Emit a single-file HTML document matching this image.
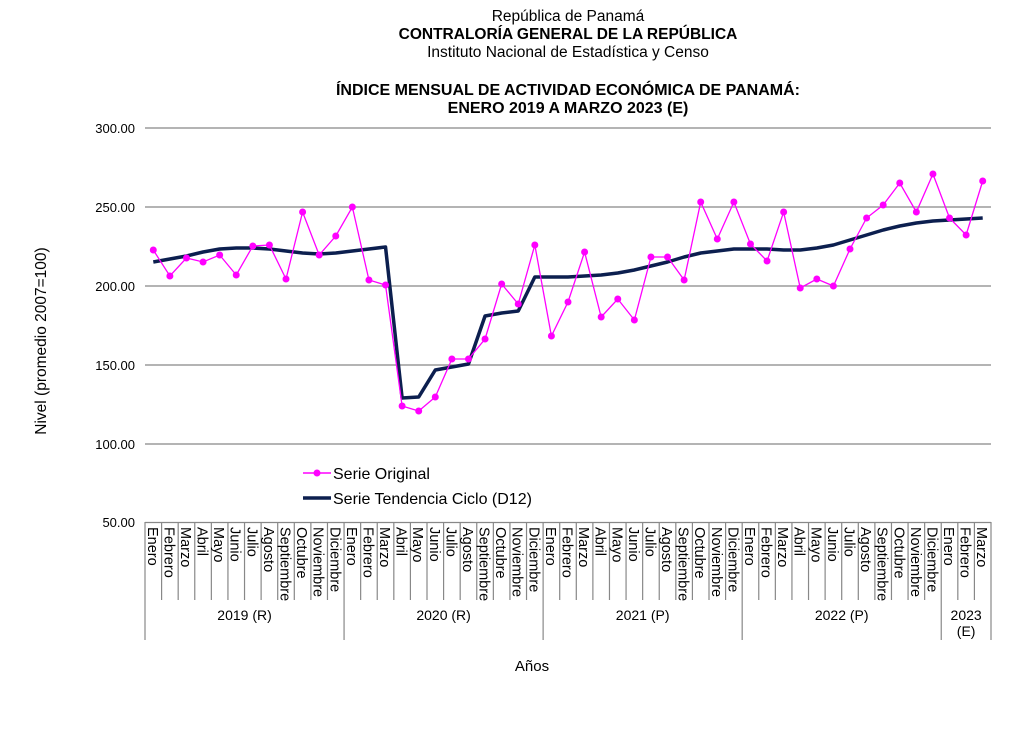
<!DOCTYPE html>
<html><head><meta charset="utf-8"><style>
body{margin:0;background:#fff;font-family:"Liberation Sans",sans-serif;}
svg text{font-family:"Liberation Sans",sans-serif;fill:#000;}
</style></head><body>
<svg id="s" width="1013" height="737" xmlns="http://www.w3.org/2000/svg">
<text x="568" y="21" font-size="15.5" text-anchor="middle">República de Panamá</text>
<text x="568" y="39" font-size="15.5" font-weight="bold" text-anchor="middle">CONTRALORÍA GENERAL DE LA REPÚBLICA</text>
<text x="568" y="57" font-size="15.5" text-anchor="middle">Instituto Nacional de Estadística y Censo</text>
<text x="568" y="95" font-size="16" font-weight="bold" text-anchor="middle">ÍNDICE MENSUAL DE ACTIVIDAD ECONÓMICA DE PANAMÁ:</text>
<text x="568" y="113" font-size="16" font-weight="bold" text-anchor="middle">ENERO 2019 A MARZO 2023 (E)</text>
<text x="46" y="341" font-size="15.5" text-anchor="middle" transform="rotate(-90 46 341)">Nivel (promedio 2007=100)</text>
<text x="532" y="671" font-size="15" text-anchor="middle">Años</text>
<line x1="303" y1="473" x2="331" y2="473" stroke="#ff00ff" stroke-width="1.5"/><circle cx="317" cy="473" r="3.5" fill="#ff00ff"/>
<text x="333" y="479" font-size="16">Serie Original</text>
<line x1="303" y1="498" x2="331" y2="498" stroke="#0c1f4f" stroke-width="3.5"/>
<text x="333" y="504" font-size="16">Serie Tendencia Ciclo (D12)</text>
</svg>
<script>
const s=document.getElementById('s');const ns='http://www.w3.org/2000/svg';
function el(t,a,txt){const e=document.createElementNS(ns,t);for(const k in a)e.setAttribute(k,a[k]);if(txt)e.textContent=txt;s.appendChild(e);return e;}
const L=145,R=991,W=(R-L)/51;
[[300,128],[250,207],[200,286],[150,365],[100,444]].forEach(([v,y])=>{el('line',{x1:L,x2:R,y1:y,y2:y,stroke:'#888','stroke-width':1.3});el('text',{x:135,y:y+5,'font-size':13,'text-anchor':'end'},v.toFixed(2));});
el('text',{x:135,y:527,'font-size':13,'text-anchor':'end'},'50.00');
el('line',{x1:L,x2:R,y1:522.5,y2:522.5,stroke:'#888','stroke-width':1.3});
const m=['Enero','Febrero','Marzo','Abril','Mayo','Junio','Julio','Agosto','Septiembre','Octubre','Noviembre','Diciembre'];
for(let i=0;i<=51;i++){const x=L+i*W;const yr=i%12==0||i==51;el('line',{x1:x,x2:x,y1:522,y2:yr?640:600,stroke:'#888','stroke-width':1.2});}
for(let i=0;i<51;i++){const x=L+i*W+W/2-5.5;el('text',{x:x,y:527,'font-size':14.5,transform:`rotate(90 ${x} 527)`},m[i%12]);}
['2019 (R)','2020 (R)','2021 (P)','2022 (P)'].forEach((t,k)=>el('text',{x:L+(k*12+6)*W,y:620,'font-size':14,'text-anchor':'middle'},t));
el('text',{x:L+49.5*W,y:620,'font-size':14,'text-anchor':'middle'},'2023');
el('text',{x:L+49.5*W,y:636,'font-size':14,'text-anchor':'middle'},'(E)');
const o=[250,276,258,262,255,275,246,245,279,212,255,236,207,280,285,406,411,397,359,359,339,284,304,245,336,302,252,317,299,320,257,257,280,202,239,202,244,261,212,288,279,286,249,218,205,183,212,174,218,235,181];
const t=[262,259,256,252,249,248,248,249,251,253,254,253,251,249,247,398,397,370,367,364,316,313,311,277,277,277,276,275,273,270,266,262,257,253,251,249,249,249,250,250,248,245,240,235,230,226,223,221,220,219,218];
const px=i=>L+i*W+W/2;
el('polyline',{points:t.map((y,i)=>px(i)+','+y).join(' '),fill:'none',stroke:'#0c1f4f','stroke-width':3.5,'stroke-linejoin':'round'});
el('polyline',{points:o.map((y,i)=>px(i)+','+y).join(' '),fill:'none',stroke:'#ff00ff','stroke-width':1.3});
o.forEach((y,i)=>el('circle',{cx:px(i),cy:y,r:3.5,fill:'#ff00ff'}));
</script>
</body></html>
